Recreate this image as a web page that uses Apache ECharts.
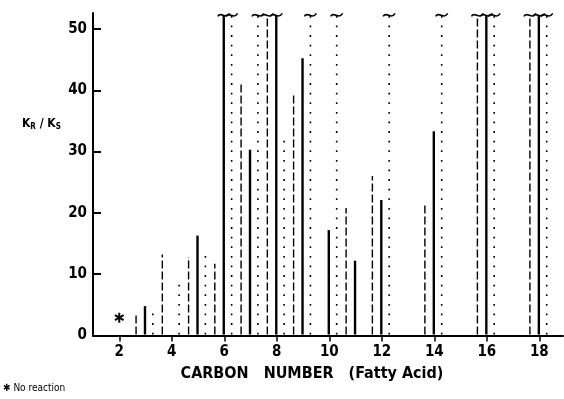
<!DOCTYPE html>
<html>
<head>
<meta charset="utf-8">
<script src="https://cdn.jsdelivr.net/npm/echarts@6/dist/echarts.min.js"></script>
<style>html,body{margin:0;padding:0;background:#fff;}#c{width:564px;height:399px;}</style>
</head>
<body>
<div id="c"></div>
<script>
// ---- data ----
const OFF = 'off'; // value runs off the top of the scale (broken line)
const carbons = [3, 4, 5, 6, 7, 8, 9, 10, 11, 12, 14, 16, 18];
const dashedVals = [3.4, 13.2, 12.8, 11.7, 41.2, OFF, 39.6, null, 20.8, 26.0, 21.6, OFF, OFF];
const solidVals  = [4.8, null, 16.3, OFF, 30.3, OFF, 45.2, 17.2, 12.2, 22.1, 33.3, OFF, OFF];
const dottedVals = [3.8, 8.3, 13.1, OFF, OFF, 32.0, OFF, OFF, null, OFF, OFF, OFF, OFF];
const noReactionCarbon = [2];
const noReactionMark = [2.9];
const xTicks = [2, 4, 6, 8, 10, 12, 14, 16, 18];
const yTicks = [0, 10, 20, 30, 40, 50];

// ---- layout / style constants ----
const Y_MAX = 52.6, TOP_DRAW = 52.2;
const FONT = '"DejaVu Sans Condensed","DejaVu Sans",sans-serif';

function build(vals, offset) {
  const out = [];
  carbons.forEach((c, i) => {
    const v = vals[i];
    if (v === null || v === undefined) return;
    const off = v === OFF;
    out.push([c + offset, off ? TOP_DRAW : v, off ? 1 : 0]);
  });
  return out;
}

function makeRender(lineWidth, dash) {
  return function (params, api) {
    const x = api.value(0), y = api.value(1), off = api.value(2);
    const p0 = api.coord([x, 0]);
    const p1 = api.coord([x, y]);
    const children = [{
      type: 'line',
      shape: { x1: p0[0], y1: p0[1] - 1, x2: p1[0], y2: p1[1] },
      style: { stroke: '#000', lineWidth: lineWidth, lineDash: dash, fill: null }
    }];
    if (off) {
      children.push({
        type: 'bezierCurve',
        shape: { x1: p1[0] - 6, y1: p1[1] + 1, cpx1: p1[0] - 3, cpy1: p1[1] - 5,
                 cpx2: p1[0] + 2, cpy2: p1[1] + 5, x2: p1[0] + 6, y2: p1[1] - 2 },
        style: { stroke: '#000', lineWidth: 1.5, fill: null }
      });
    }
    return { type: 'group', children: children };
  };
}

const chart = echarts.init(document.getElementById('c'));
chart.setOption({
  animation: false,
  backgroundColor: '#fff',
  grid: { left: 93, right: 1, top: 13, bottom: 63.5, containLabel: false },
  xAxis: {
    type: 'value', min: 1, max: 18.9,
    name: 'CARBON   NUMBER   (Fatty Acid)',
    nameLocation: 'middle', nameGap: 30,
    nameTextStyle: { color: '#000', fontFamily: FONT, fontSize: 16, fontWeight: 'bold', padding: [0, 32, 0, 0] },
    axisLine: { show: true, lineStyle: { color: '#000', width: 2 } },
    axisTick: { show: true, inside: false, length: 6, customValues: xTicks, lineStyle: { color: '#000', width: 1.5 } },
    axisLabel: { customValues: xTicks, color: '#000', fontFamily: FONT, fontSize: 15, fontWeight: 'bold', margin: 9 },
    splitLine: { show: false }
  },
  yAxis: {
    type: 'value', min: 0, max: Y_MAX,
    axisLine: { show: true, lineStyle: { color: '#000', width: 2 } },
    axisTick: { show: true, inside: true, length: 8, customValues: yTicks, lineStyle: { color: '#000', width: 2 } },
    axisLabel: { customValues: yTicks, color: '#000', fontFamily: FONT, fontSize: 15, fontWeight: 'bold', margin: 6 },
    splitLine: { show: false }
  },
  graphic: [
    {
      type: 'text', left: 22, top: 118,
      style: {
        text: '{k|K}{s|R}{k| / K}{s|S}',
        rich: {
          k: { fontFamily: FONT, fontSize: 12, fontWeight: 'bold', fill: '#000' },
          s: { fontFamily: FONT, fontSize: 8, fontWeight: 'bold', fill: '#000', padding: [5, 0, 0, 0] }
        }
      }
    },
    {
      type: 'text', left: 3, top: 383,
      style: { text: '\u2731 No reaction', fontFamily: FONT, fontSize: 10, fill: '#000' }
    }
  ],
  series: [
    { type: 'custom', name: 'dashed', data: build(dashedVals, -0.36), renderItem: makeRender(1.4, [8, 3]), silent: true },
    { type: 'custom', name: 'solid', data: build(solidVals, -0.02), renderItem: makeRender(2.4, null), silent: true },
    { type: 'custom', name: 'dotted', data: build(dottedVals, 0.28), renderItem: makeRender(1.6, [1.8, 7.8]), silent: true },
    {
      type: 'custom', name: 'no reaction',
      data: noReactionCarbon.map((c, i) => [c, noReactionMark[i]]),
      renderItem: function (params, api) {
        const p = api.coord([api.value(0), api.value(1)]);
        const r = 5, ch = [];
        for (let k = 0; k < 3; k++) {
          const a = Math.PI / 2 + k * Math.PI / 3;
          ch.push({ type: 'line', shape: { x1: p[0] - r * Math.cos(a), y1: p[1] - r * Math.sin(a), x2: p[0] + r * Math.cos(a), y2: p[1] + r * Math.sin(a) },
                    style: { stroke: '#000', lineWidth: 2 } });
        }
        return { type: 'group', children: ch };
      },
      silent: true
    }
  ]
});
</script>
</body>
</html>
